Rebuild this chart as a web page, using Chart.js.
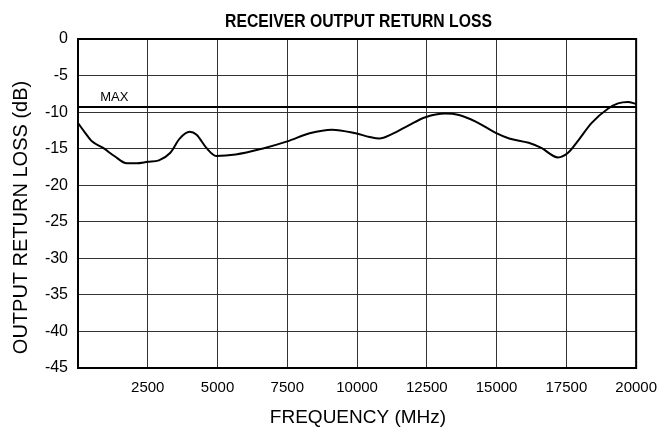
<!DOCTYPE html>
<html>
<head>
<meta charset="utf-8">
<script src="https://cdn.jsdelivr.net/npm/chart.js@4/dist/chart.umd.min.js"></script>
<style>
html,body{margin:0;padding:0;background:#fff;}
#wrap{width:668px;height:430px;position:relative;}
</style>
</head>
<body>
<div id="wrap"><canvas id="c" width="668" height="430"></canvas></div>
<script>
const chartTitle = 'RECEIVER OUTPUT RETURN LOSS';
const xTitle = 'FREQUENCY (MHz)';
const yTitle = 'OUTPUT RETURN LOSS (dB)';
const frequencyMHz = [0, 250, 500, 900, 1300, 1750, 2100, 2500, 2900, 3300, 3650, 4000, 4250, 4600, 4950, 5650, 6600, 7500, 8300, 9100, 9950, 10450, 10800, 11250, 11850, 12450, 13150, 13650, 14250, 14950, 15450, 16150, 16600, 17200, 17550, 17900, 18400, 19000, 19350, 19700, 20000];
const returnLossDb = [-11.5, -12.8, -14.0, -14.9, -16.0, -17.0, -17.0, -16.8, -16.6, -15.6, -13.6, -12.7, -13.1, -14.9, -16.0, -15.8, -15.0, -14.0, -12.9, -12.4, -12.9, -13.4, -13.6, -13.0, -11.8, -10.7, -10.2, -10.4, -11.3, -12.8, -13.6, -14.2, -14.9, -16.2, -15.6, -14.0, -11.5, -9.5, -8.8, -8.6, -8.9];
const maxLimitDb = -9.3;
const maxLabel = 'MAX';
const maxLabelFreq = 1300;
const xTicks = [0, 2500, 5000, 7500, 10000, 12500, 15000, 17500, 20000];
const yTicks = [0, -5, -10, -15, -20, -25, -30, -35, -40, -45];

const FONT = '"Liberation Sans", Arial, Helvetica, sans-serif';
Chart.defaults.font.family = FONT;
Chart.defaults.color = '#000';

const curve = frequencyMHz.map((f, i) => ({x: f, y: returnLossDb[i]}));
const limit = [{x: xTicks[0], y: maxLimitDb}, {x: xTicks[xTicks.length - 1], y: maxLimitDb}];

const decor = {
  id: 'decor',
  afterDraw(chart) {
    const ctx = chart.ctx;
    const a = chart.chartArea;
    const xs = chart.scales.x, ys = chart.scales.y;
    ctx.save();
    ctx.strokeStyle = '#000';
    ctx.lineWidth = 2;
    ctx.strokeRect(a.left, a.top, a.right - a.left, a.bottom - a.top);
    ctx.restore();
    // title
    ctx.save();
    ctx.fillStyle = '#000';
    ctx.textAlign = 'center';
    ctx.textBaseline = 'alphabetic';
    ctx.font = 'bold 19px "Liberation Sans Narrow", "Liberation Sans", Arial, sans-serif';
    const tw = ctx.measureText(chartTitle).width;
    ctx.translate(358.5, 26.7);
    ctx.scale(267 / tw, 1);
    ctx.fillText(chartTitle, 0, 0);
    ctx.restore();
    // x title
    ctx.save();
    ctx.fillStyle = '#000';
    ctx.textAlign = 'center';
    ctx.textBaseline = 'alphabetic';
    ctx.font = '19px ' + FONT;
    ctx.fillText(xTitle, 358, 423.3);
    ctx.restore();
    // y title
    ctx.save();
    ctx.fillStyle = '#000';
    ctx.textAlign = 'center';
    ctx.textBaseline = 'alphabetic';
    ctx.font = '20px ' + FONT;
    ctx.translate(27.3, 217.5);
    ctx.rotate(-Math.PI / 2);
    ctx.fillText(yTitle, 0, 0);
    ctx.restore();
    // MAX label
    ctx.save();
    ctx.fillStyle = '#000';
    ctx.font = '13px ' + FONT;
    ctx.textAlign = 'center';
    ctx.textBaseline = 'bottom';
    ctx.fillText(maxLabel, xs.getPixelForValue(maxLabelFreq), ys.getPixelForValue(maxLimitDb) - 3);
    ctx.restore();
  }
};

new Chart(document.getElementById('c'), {
  type: 'scatter',
  data: {
    datasets: [
      {data: curve, showLine: true, borderColor: '#000', borderWidth: 2, pointRadius: 0, tension: 0.4, cubicInterpolationMode: 'monotone', fill: false},
      {data: limit, showLine: true, borderColor: '#000', borderWidth: 2.2, pointRadius: 0, tension: 0, fill: false}
    ]
  },
  options: {
    responsive: false,
    animation: false,
    events: [],
    layout: {padding: {top: 39, right: 30, left: 0, bottom: 0}},
    plugins: {legend: {display: false}, tooltip: {enabled: false}, title: {display: false}},
    scales: {
      x: {
        type: 'linear', min: xTicks[0], max: xTicks[xTicks.length - 1],
        afterBuildTicks: s => { s.ticks = xTicks.map(v => ({value: v})); },
        afterFit: s => { s.height = 62; },
        ticks: {autoSkip: false, maxRotation: 0, padding: 11, font: {size: 15}, color: '#000',
          callback: v => v === 0 ? '' : String(v)},
        grid: {color: '#333', lineWidth: 1, drawTicks: false},
        border: {display: false},
        title: {display: false}
      },
      y: {
        type: 'linear', min: -45, max: 0,
        afterBuildTicks: s => { s.ticks = yTicks.map(v => ({value: v})); },
        afterFit: s => { s.width = 78; },
        ticks: {autoSkip: false, padding: 10, font: {size: 16}, color: '#000', callback: v => String(v)},
        grid: {color: '#333', lineWidth: 1, drawTicks: false},
        border: {display: false},
        title: {display: false}
      }
    }
  },
  plugins: [decor]
});
</script>
</body>
</html>
